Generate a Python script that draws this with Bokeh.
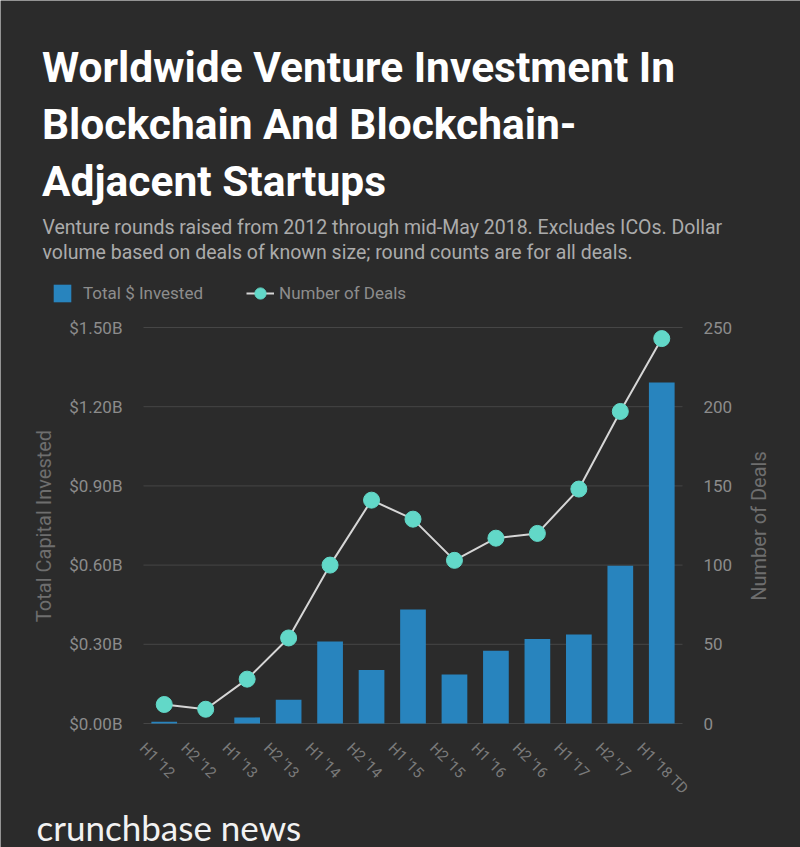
import math
from bokeh.plotting import figure
from bokeh.models import (ColumnDataSource, Range1d, Label, LabelSet, Legend,
                          LegendItem)
from bokeh.core.properties import value
from bokeh.embed import file_html
from bokeh.resources import INLINE

# ---------------- data ----------------
periods = ["H1 '12", "H2 '12", "H1 '13", "H2 '13", "H1 '14", "H2 '14", "H1 '15",
           "H2 '15", "H1 '16", "H2 '16", "H1 '17", "H2 '17", "H1 '18 TD"]
invested_b = [0.007, 0.0, 0.023, 0.09, 0.311, 0.203, 0.432, 0.186, 0.276, 0.32,
              0.337, 0.598, 1.292]
deals = [12, 9, 28, 54, 100, 141, 129, 103, 117, 120, 148, 197, 243]

invest_ticks = [0.0, 0.3, 0.6, 0.9, 1.2, 1.5]
invest_tick_labels = ["$0.00B", "$0.30B", "$0.60B", "$0.90B", "$1.20B", "$1.50B"]
deal_ticks = [0, 50, 100, 150, 200, 250]
deal_tick_labels = ["0", "50", "100", "150", "200", "250"]

title_lines = ["Worldwide Venture Investment In",
               "Blockchain And Blockchain-",
               "Adjacent Startups"]
subtitle_lines = ["Venture rounds raised from 2012 through mid-May 2018. Excludes ICOs. Dollar",
                  "volume based on deals of known size; round counts are for all deals."]
left_title = "Total Capital Invested"
right_title = "Number of Deals"
bar_label = "Total $ Invested"
deal_label = "Number of Deals"
brand = "crunchbase news"

# ---------------- style / layout ----------------
W, H = 800, 847
BG = "#2b2b2b"
BAR = "#2884be"
DOT = "#62d8c8"
LINE = "#d6d6d6"
GRID = "#464646"
TICK = "#8c8c8c"
AXT = "#6e6e6e"
FONT = "Roboto"

# plot area in page pixels
PX_L, PX_R, PX_T, PX_B = 143, 682, 327, 723

n = len(periods)
unit = (PX_R - PX_L) / n
x_start = -0.5 - PX_L / unit
x_end = x_start + W / unit

inv_max = invest_ticks[-1]
deal_max = deal_ticks[-1]
inv_per_px = inv_max / (PX_B - PX_T)
deal_per_px = deal_max / (PX_B - PX_T)

xi = list(range(n))
src = ColumnDataSource(dict(xi=xi, period=periods, invested=invested_b, deals=deals))
lt = ColumnDataSource(dict(y=invest_ticks, t=invest_tick_labels,
                           x0=[-0.5] * len(invest_ticks),
                           x1=[n - 0.5] * len(invest_ticks)))
rt = ColumnDataSource(dict(y=deal_ticks, t=deal_tick_labels,
                           x=[n - 0.5] * len(deal_ticks)))

p = figure(width=W, height=H,
           x_range=Range1d(x_start, x_end),
           y_range=Range1d(-(H - PX_B) * inv_per_px, PX_B * inv_per_px),
           x_axis_type=None, y_axis_type=None,
           output_backend="svg", toolbar_location=None, title=None,
           min_border_left=0, min_border_right=0, min_border_top=0,
           min_border_bottom=0)
p.extra_y_ranges = {"deals": Range1d(-(H - PX_B) * deal_per_px, PX_B * deal_per_px)}
p.background_fill_color = BG
p.border_fill_color = BG
p.outline_line_color = None

# gridlines (from the invested ticks)
p.segment(x0="x0", x1="x1", y0="y", y1="y", source=lt, line_color=GRID, line_width=1)

bars = p.vbar(x="xi", top="invested", bottom=0, width=0.62, source=src,
              fill_color=BAR, line_color=None)
line = p.line(x="xi", y="deals", source=src, y_range_name="deals",
              line_color=LINE, line_width=2)
dots = p.scatter(x="xi", y="deals", source=src, y_range_name="deals",
                 size=16, fill_color=DOT, line_color=DOT)

# tick labels
p.add_layout(LabelSet(x="x0", y="y", text="t", source=lt, x_offset=-21,
                      text_align="right", text_baseline="middle",
                      text_font=value(FONT), text_font_size="17px",
                      text_color=TICK))
p.add_layout(LabelSet(x="x", y="y", text="t", source=rt, x_offset=21,
                      y_range_name="deals",
                      text_align="left", text_baseline="middle",
                      text_font=value(FONT), text_font_size="17px",
                      text_color=TICK))
# rotated category labels
p.add_layout(LabelSet(x="xi", y=0, text="period", source=src,
                      angle=-math.pi / 4, x_offset=-22, y_offset=-22,
                      text_align="left", text_baseline="middle",
                      text_font=value(FONT), text_font_size="15px",
                      text_color="#7a7a7a"))


def sy(Y):
    return H - Y


# axis titles
for txt, X in ((left_title, 43.5), (right_title, 758)):
    p.add_layout(Label(x=X, y=sy(525.5), x_units="screen", y_units="screen",
                       text=txt, angle=math.pi / 2, text_align="center",
                       text_baseline="middle", text_font=FONT,
                       text_font_size="20px", text_color=AXT))

# title and subtitle
for t, base in zip(title_lines, [66.7, 123.7, 180.7]):
    p.add_layout(Label(x=41.5, y=sy(base), x_units="screen", y_units="screen",
                       text=t, text_font=FONT, text_font_style="bold",
                       text_font_size="42.5px", text_color="#ffffff",
                       text_baseline="alphabetic"))
for t, base in zip(subtitle_lines, [226.7, 251.7]):
    p.add_layout(Label(x=42, y=sy(base), x_units="screen", y_units="screen",
                       text=t, text_font=FONT, text_font_size="19.5px",
                       text_color="#ababab", text_baseline="alphabetic"))

# brand
p.add_layout(Label(x=36, y=sy(826), x_units="screen", y_units="screen",
                   text=brand, text_font="Lato", text_font_size="35px",
                   text_color="#f2f2f2", text_baseline="alphabetic"))

# legends
common = dict(orientation="horizontal", padding=0, margin=0, spacing=0,
              background_fill_alpha=0, border_line_alpha=0,
              label_text_font=FONT, label_text_font_size="17px",
              label_text_color="#8d8d8d")
leg1 = Legend(items=[LegendItem(label=bar_label, renderers=[bars])],
              location=(51, sy(303.5)), glyph_width=22, glyph_height=22,
              label_standoff=10, **common)
leg2 = Legend(items=[LegendItem(label=deal_label, renderers=[line, dots])],
              location=(246, sy(306.5)), glyph_width=28, glyph_height=28,
              label_standoff=5, **common)
p.add_layout(leg1)
p.add_layout(leg2)

open("out.html", "w").write(file_html(p, INLINE))
